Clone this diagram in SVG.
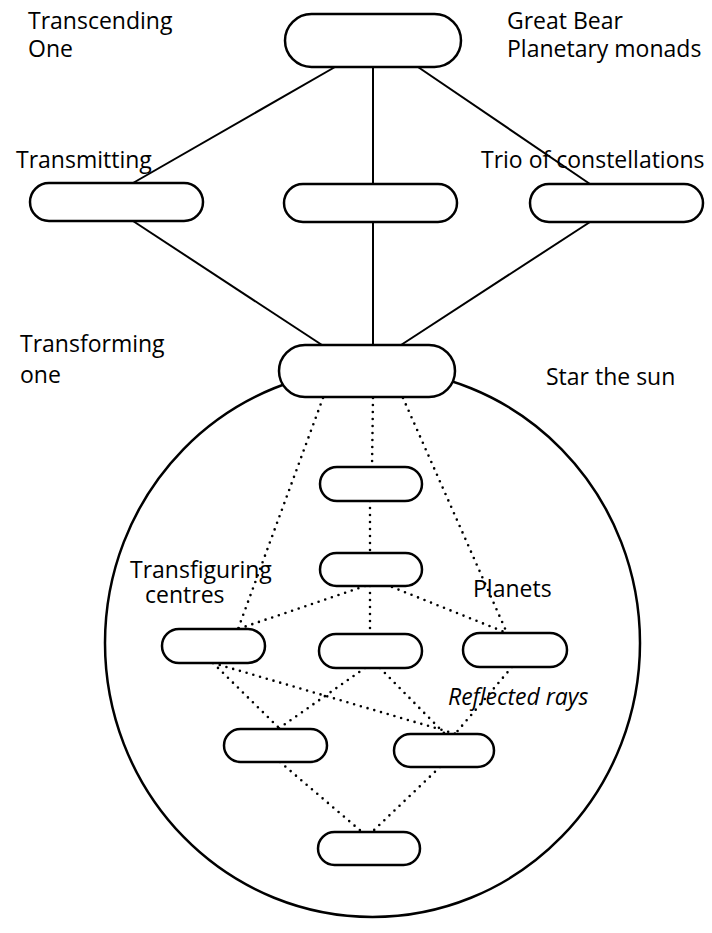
<svg xmlns="http://www.w3.org/2000/svg" width="712" height="933" viewBox="0 0 712 933">
<style>
.node{fill:#fff;stroke:#000;stroke-width:2.5}
.solid{stroke:#000;stroke-width:2;fill:none}
.dot{stroke:#000;stroke-width:2.6;stroke-linecap:round;stroke-dasharray:0 7;fill:none}
text{font-family:"Open Sans","Noto Sans",sans-serif;font-size:23px;fill:#000}
.it{font-style:italic}
</style>
<rect width="712" height="933" fill="#fff"/>
<g id="circle"><ellipse cx="372.5" cy="643" rx="267.5" ry="274" fill="none" stroke="#000" stroke-width="2.5"/></g>
<g id="connectors">
<line class="solid" x1="335" y1="67" x2="133" y2="183"/>
<line class="solid" x1="373" y1="67" x2="373" y2="184"/>
<line class="solid" x1="418" y1="67" x2="590" y2="184"/>
<line class="solid" x1="133" y1="221" x2="322" y2="345"/>
<line class="solid" x1="373" y1="222" x2="373" y2="345"/>
<line class="solid" x1="590" y1="222" x2="401" y2="345"/>
<line class="dot" x1="323" y1="398" x2="238" y2="629"/>
<line class="dot" x1="373" y1="398" x2="372" y2="467"/>
<line class="dot" x1="370" y1="501" x2="370" y2="553"/>
<line class="dot" x1="370" y1="586" x2="370" y2="634"/>
<line class="dot" x1="403" y1="398" x2="507" y2="633"/>
<line class="dot" x1="365" y1="586" x2="238" y2="629"/>
<line class="dot" x1="392" y1="587" x2="507" y2="633"/>
<line class="dot" x1="213" y1="663" x2="280" y2="729"/>
<line class="dot" x1="213" y1="663" x2="456" y2="734"/>
<line class="dot" x1="365" y1="668" x2="278" y2="729"/>
<line class="dot" x1="380" y1="668" x2="445" y2="734"/>
<line class="dot" x1="512" y1="667" x2="455" y2="734"/>
<line class="dot" x1="280" y1="762" x2="362" y2="832"/>
<line class="dot" x1="440" y1="767" x2="372" y2="832"/>
</g>
<g id="top"><rect class="node" x="285" y="14" width="176" height="53" rx="26.5"/></g>
<g id="transmitting"><rect class="node" x="30" y="183" width="173" height="38" rx="19"/></g>
<g id="middle"><rect class="node" x="284" y="184" width="173" height="38" rx="19"/></g>
<g id="trio"><rect class="node" x="530" y="184" width="173" height="38" rx="19"/></g>
<g id="transforming"><rect class="node" x="279" y="345" width="176" height="52" rx="26"/></g>
<g id="n1"><rect class="node" x="320" y="467" width="102" height="34" rx="17"/></g>
<g id="n2"><rect class="node" x="320" y="553" width="102" height="33" rx="16.5"/></g>
<g id="n3"><rect class="node" x="162" y="629" width="103" height="34" rx="17"/></g>
<g id="n4"><rect class="node" x="319" y="634" width="103" height="34" rx="17"/></g>
<g id="n5"><rect class="node" x="463" y="633" width="104" height="34" rx="17"/></g>
<g id="n6"><rect class="node" x="224" y="729" width="103" height="33" rx="16.5"/></g>
<g id="n7"><rect class="node" x="394" y="734" width="100" height="33" rx="16.5"/></g>
<g id="n8"><rect class="node" x="318" y="832" width="102" height="33" rx="16.5"/></g>
<g id="labels">
<text x="28" y="29">Transcending</text>
<text x="28" y="57">One</text>
<text x="507" y="29">Great Bear</text>
<text x="507" y="57">Planetary monads</text>
<text x="16" y="168">Transmitting</text>
<text x="481" y="168">Trio of constellations</text>
<text x="20" y="352">Transforming</text>
<text x="20" y="383">one</text>
<text x="546" y="385">Star the sun</text>
<text x="130" y="578">Transfiguring</text>
<text x="145" y="603">centres</text>
<text x="473" y="597">Planets</text>
<text class="it" x="448" y="705">Reflected rays</text>
</g>
</svg>
